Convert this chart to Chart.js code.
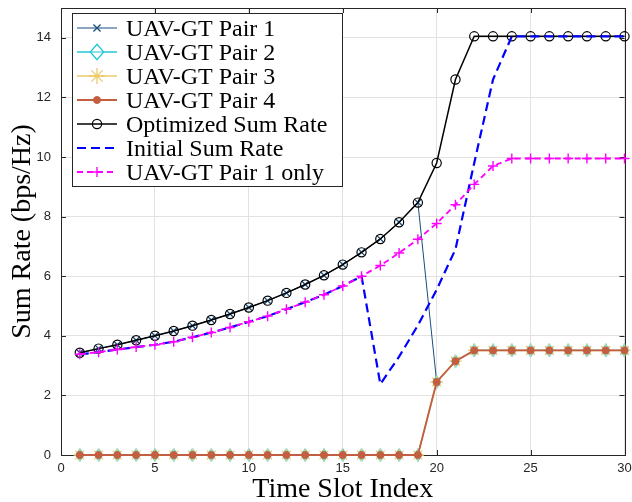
<!DOCTYPE html>
<html><head><meta charset="utf-8">
<script src="https://cdn.jsdelivr.net/npm/chart.js@4.4.1/dist/chart.umd.min.js"></script>
<style>html,body{margin:0;padding:0;background:#fff;}canvas{display:block;}</style>
</head><body>
<canvas id="c" width="632" height="502"></canvas>
<script>
const timeSlots = [1,2,3,4,5,6,7,8,9,10,11,12,13,14,15,16,17,18,19,20,21,22,23,24,25,26,27,28,29,30];
const xTicks = [0,5,10,15,20,25,30];
const yTicks = [0,2,4,6,8,10,12,14];

const pair1 = [3.43,3.57,3.70,3.85,4.00,4.16,4.34,4.53,4.73,4.95,5.18,5.44,5.72,6.03,6.39,6.80,7.25,7.81,8.47,2.45,3.15,3.51,3.51,3.51,3.51,3.51,3.51,3.51,3.51,3.51];
const pair2 = [0,0,0,0,0,0,0,0,0,0,0,0,0,0,0,0,0,0,0,2.45,3.15,3.51,3.51,3.51,3.51,3.51,3.51,3.51,3.51,3.51];
const pair3 = [0,0,0,0,0,0,0,0,0,0,0,0,0,0,0,0,0,0,0,2.45,3.15,3.51,3.51,3.51,3.51,3.51,3.51,3.51,3.51,3.51];
const pair4 = [0,0,0,0,0,0,0,0,0,0,0,0,0,0,0,0,0,0,0,2.45,3.15,3.51,3.51,3.51,3.51,3.51,3.51,3.51,3.51,3.51];
const optimizedSum = [3.43,3.57,3.70,3.85,4.00,4.16,4.34,4.53,4.73,4.95,5.18,5.44,5.72,6.03,6.39,6.80,7.25,7.81,8.47,9.80,12.60,14.05,14.05,14.05,14.05,14.05,14.05,14.05,14.05,14.05];
const initialSum = [3.38,3.45,3.54,3.62,3.70,3.80,3.95,4.11,4.28,4.47,4.66,4.89,5.13,5.38,5.67,6.00,2.38,3.30,4.35,5.55,6.90,9.80,12.60,14.05,14.05,14.05,14.05,14.05,14.05,14.05];
const pair1Only = [3.38,3.45,3.54,3.62,3.70,3.80,3.95,4.11,4.28,4.47,4.66,4.89,5.13,5.38,5.67,6.00,6.36,6.78,7.24,7.77,8.40,9.08,9.70,9.95,9.95,9.95,9.95,9.95,9.95,9.95];
const seriesNames = ['UAV-GT Pair 1','UAV-GT Pair 2','UAV-GT Pair 3','UAV-GT Pair 4','Optimized Sum Rate','Initial Sum Rate','UAV-GT Pair 1 only'];

function pts(arr){ return timeSlots.map((t,i)=>({x:t,y:arr[i]})); }

function diamond(w, h, color, lw){
  const c = document.createElement('canvas');
  c.width = w; c.height = h;
  const g = c.getContext('2d');
  g.strokeStyle = color; g.lineWidth = lw;
  g.beginPath();
  g.moveTo(w/2, lw); g.lineTo(w-lw, h/2); g.lineTo(w/2, h-lw); g.lineTo(lw, h/2); g.closePath();
  g.stroke();
  return c;
}
const cyan = '#22c6d6';
const diamondPlot = diamond(10, 14, cyan, 1.2);
const diamondLegend = diamond(16, 18, cyan, 1.3);

const styles = [
  {color:'#174e7e', lw:1, dash:[], ps:'crossRot', r:5, pbw:1.3, bg:'rgba(0,0,0,0)'},
  {color:cyan, lw:1.2, dash:[], ps:diamondPlot, r:6, pbw:1.2, bg:'rgba(0,0,0,0)'},
  {color:'#edcb6b', lw:1.5, dash:[], ps:'star', r:6.2, pbw:1.3, bg:'rgba(0,0,0,0)'},
  {color:'#c45e41', lw:1.8, dash:[], ps:'circle', r:3.5, pbw:1, bg:'#c45e41'},
  {color:'#000000', lw:1.5, dash:[], ps:'circle', r:4.6, pbw:1.2, bg:'rgba(0,0,0,0)'},
  {color:'#0000ff', lw:2.2, dash:[9,5], ps:false, r:0, pbw:0, bg:'rgba(0,0,0,0)'},
  {color:'#ff00ff', lw:1.8, dash:[6,4], ps:'cross', r:5, pbw:1.4, bg:'rgba(0,0,0,0)'}
];
const allSeries = [pair1,pair2,pair3,pair4,optimizedSum,initialSum,pair1Only];

const datasets = allSeries.map((arr,i)=>{
  const s = styles[i];
  return {
    label: seriesNames[i], data: pts(arr), order: 7-i,
    borderColor: s.color, backgroundColor: s.bg, borderWidth: s.lw, borderDash: s.dash,
    pointStyle: s.ps, pointRadius: s.r, pointBorderWidth: s.pbw, pointBorderColor: s.color,
    pointBackgroundColor: s.bg, tension: 0, clip: false, fill: false
  };
});

const boxPlugin = {
  id:'box',
  beforeDatasetsDraw(chart){
    const {ctx, chartArea:a, scales:{x,y}} = chart;
    ctx.save();
    ctx.strokeStyle = '#262626'; ctx.lineWidth = 1;
    const tl = 5;
    ctx.beginPath();
    xTicks.forEach(v=>{ const px = Math.round(x.getPixelForValue(v))+0.5;
      ctx.moveTo(px, a.bottom); ctx.lineTo(px, a.bottom-tl);
      ctx.moveTo(px, a.top); ctx.lineTo(px, a.top+tl); });
    yTicks.forEach(v=>{ const py = Math.round(y.getPixelForValue(v))+0.5;
      ctx.moveTo(a.left, py); ctx.lineTo(a.left+tl, py);
      ctx.moveTo(a.right, py); ctx.lineTo(a.right-tl, py); });
    ctx.stroke();
    ctx.strokeRect(Math.round(a.left)+0.5, Math.round(a.top)+0.5, Math.round(a.right-a.left), Math.round(a.bottom-a.top));
    ctx.restore();
  }
};

const legendPlugin = {
  id:'customLegend',
  afterDraw(chart){
    const ctx = chart.ctx;
    const bx = 72.5, by = 13.5, bw = 270, bh = 173;
    ctx.save();
    ctx.fillStyle = '#ffffff';
    ctx.fillRect(bx, by, bw, bh);
    ctx.strokeStyle = '#262626'; ctx.lineWidth = 1;
    ctx.strokeRect(bx, by, bw, bh);
    seriesNames.forEach((name,i)=>{
      const s = styles[i];
      const cy = 28 + i*24;
      ctx.save();
      ctx.strokeStyle = s.color; ctx.lineWidth = s.lw; ctx.setLineDash(s.dash);
      ctx.beginPath(); ctx.moveTo(77, cy); ctx.lineTo(117, cy); ctx.stroke();
      ctx.setLineDash([]);
      if (i === 1) {
        ctx.fillStyle = '#fff';
        ctx.fillRect(97-7, cy-8, 14, 16);
        ctx.strokeStyle = s.color; ctx.lineWidth = s.lw;
        ctx.beginPath(); ctx.moveTo(77, cy); ctx.lineTo(117, cy); ctx.stroke();
        ctx.drawImage(diamondLegend, 97-8, cy-9);
      } else if (s.ps) {
        ctx.fillStyle = s.bg; ctx.strokeStyle = s.color; ctx.lineWidth = s.pbw;
        const rr = s.ps==='star' ? 8 : s.r;
        Chart.helpers.drawPoint(ctx, {pointStyle:s.ps, rotation:0, radius:rr, borderWidth:s.pbw}, 97, cy);
      }
      ctx.restore();
      ctx.fillStyle = '#000';
      ctx.font = '24px "Liberation Serif"';
      ctx.textBaseline = 'alphabetic'; ctx.textAlign = 'left';
      ctx.fillText(name, 126, cy + 7.5);
    });
    ctx.restore();
  }
};

new Chart(document.getElementById('c'), {
  type:'line',
  data:{datasets},
  options:{
    responsive:false, animation:false, devicePixelRatio:1,
    layout:{padding:{left:0,right:6,top:8,bottom:0}},
    plugins:{legend:{display:false}, tooltip:{enabled:false}},
    scales:{
      x:{type:'linear', min:0, max:30,
        afterBuildTicks: s=>{ s.ticks = xTicks.map(v=>({value:v})); },
        afterFit: s=>{ s.height = 47; s.paddingLeft = 0; s.paddingRight = 0; },
        grid:{color:'#e2e2e2', drawTicks:false, lineWidth:1}, border:{display:false},
        ticks:{color:'#262626', font:{family:'Liberation Sans', size:13}, padding:6, maxRotation:0, autoSkip:false},
        title:{display:true, text:'Time Slot Index', color:'#000', font:{family:'Liberation Serif', size:28, lineHeight:0.86}, padding:{top:0,bottom:0}}
      },
      y:{type:'linear', min:0, max:15,
        afterBuildTicks: s=>{ s.ticks = yTicks.map(v=>({value:v})); },
        afterFit: s=>{ s.width = 61; s.paddingTop = 0; s.paddingBottom = 0; },
        grid:{color:'#e2e2e2', drawTicks:false, lineWidth:1}, border:{display:false},
        ticks:{color:'#262626', font:{family:'Liberation Sans', size:13}, padding:10, autoSkip:false},
        title:{display:true, text:'Sum Rate (bps/Hz)', color:'#000', font:{family:'Liberation Serif', size:28, lineHeight:0.86}, padding:{top:10.5,bottom:0}}
      }
    }
  },
  plugins:[boxPlugin, legendPlugin]
});
</script>
</body></html>
